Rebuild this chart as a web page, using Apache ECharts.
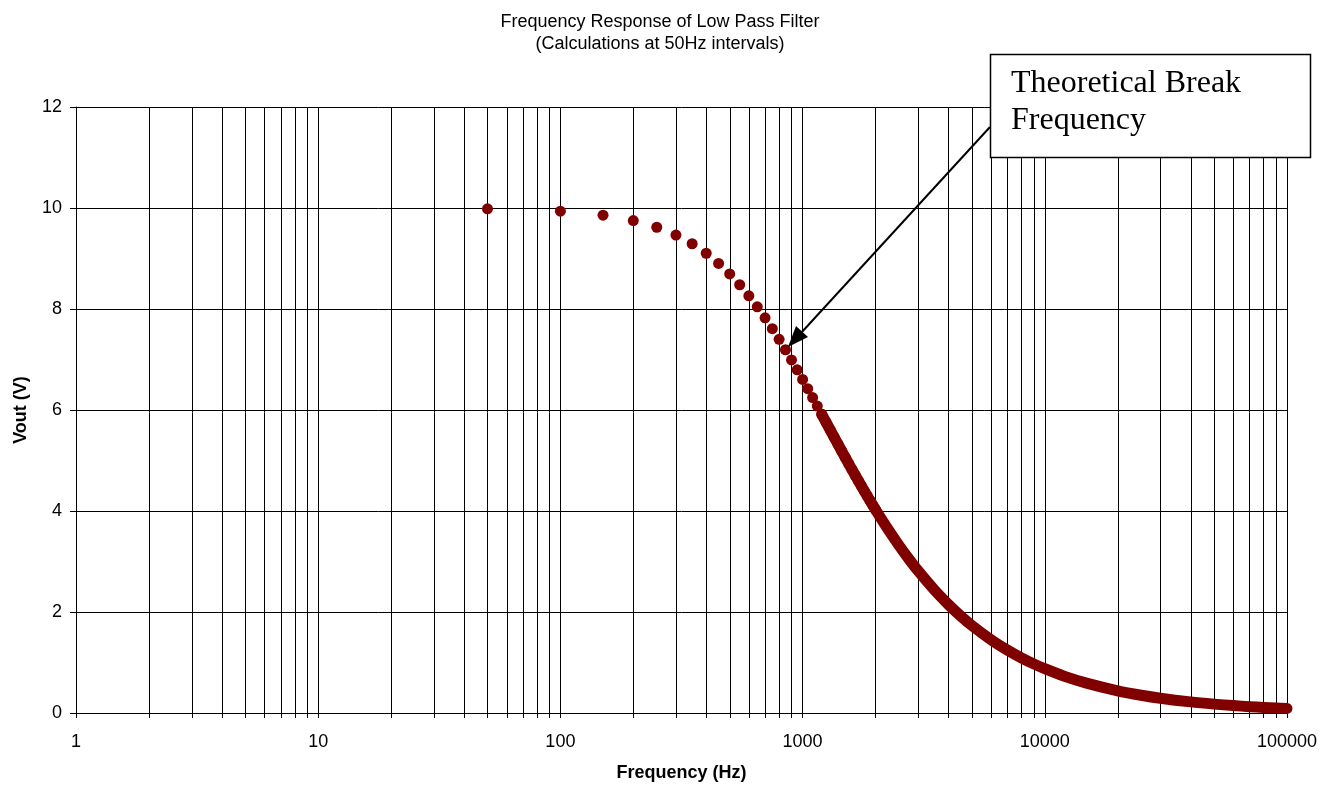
<!DOCTYPE html>
<html><head><meta charset="utf-8">
<script src="https://cdn.jsdelivr.net/npm/echarts@6/dist/echarts.min.js"></script>
<style>html,body{margin:0;padding:0;background:#fff}#c{width:1320px;height:787px}</style>
</head><body><div id="c"></div>
<script>
// Individually visible calculation points (50 Hz steps)
const dotFreq = [50,100,150,200,250,300,350,400,450,500,550,600,650,700,750,800,850,900,950,1000,
  1050,1100,1150,1200,1250,1300,1350,1400,1450,1500,1550,1600,1650,1700,1750,1800,1850,1900,1950,2000];
const dotVout = [9.984,9.936,9.858,9.751,9.619,9.465,9.292,9.104,8.903,8.694,8.480,8.262,8.044,7.826,7.611,7.399,7.193,6.991,6.796,6.606,
  6.423,6.247,6.077,5.914,5.757,5.606,5.461,5.322,5.188,5.060,4.937,4.819,4.706,4.597,4.493,4.392,4.296,4.203,4.113,4.027];
// Dense region where the 50 Hz points merge into a solid band
const bandFreq = [1200,1300,1400,1500,1600,1700,1800,1900,2000,2250,2500,2750,3000,3500,4000,4500,5000,6000,7000,8000,9000,
  10000,12000,15000,20000,25000,30000,40000,50000,60000,70000,80000,90000,100000];
const bandVout = [5.914,5.606,5.322,5.060,4.819,4.597,4.392,4.203,4.027,3.642,3.320,3.048,2.815,2.438,2.149,1.919,1.733,1.451,1.247,1.093,0.973,
  0.877,0.731,0.586,0.440,0.352,0.293,0.220,0.176,0.147,0.126,0.110,0.098,0.088];
// Minor log gridlines (2..9 of each decade)
const minorFreq = [];
[1,10,100,1000,10000].forEach(d => { for (let k = 2; k <= 9; k++) minorFreq.push(k * d); });

const titleLines = ['Frequency Response of Low Pass Filter', '(Calculations at 50Hz intervals)'];
const xName = 'Frequency (Hz)';
const yName = 'Vout (V)';
const noteLines = ['Theoretical Break', 'Frequency'];

const FONT = '"Liberation Sans", Arial, sans-serif';
const chart = echarts.init(document.getElementById('c'), null, {renderer: 'canvas'});
chart.setOption({
  animation: false,
  backgroundColor: '#fff',
  title: {
    text: titleLines.join('\n'), left: 'center', top: 6,
    textStyle: {fontFamily: FONT, fontSize: 18, fontWeight: 'normal', color: '#000', lineHeight: 22}
  },
  grid: {left: 76, right: 33, top: 107, bottom: 67, containLabel: false},
  xAxis: {
    type: 'log', logBase: 10, min: 1, max: 100000,
    name: xName, nameLocation: 'middle', nameGap: 51,
    nameTextStyle: {fontFamily: FONT, fontSize: 18, fontWeight: 'bold', color: '#000'},
    axisLine: {show: true, lineStyle: {color: '#000', width: 1}},
    axisTick: {show: true, length: 5, lineStyle: {color: '#000'}},
    axisLabel: {fontFamily: FONT, fontSize: 18, color: '#000', margin: 20,
      formatter: v => String(Math.round(v))},
    splitLine: {show: true, lineStyle: {color: '#000', width: 1}}
  },
  yAxis: {
    type: 'value', min: 0, max: 12, interval: 2,
    name: yName, nameLocation: 'middle', nameGap: 46,
    nameTextStyle: {fontFamily: FONT, fontSize: 18, fontWeight: 'bold', color: '#000'},
    axisLine: {show: true, lineStyle: {color: '#000', width: 1}},
    axisTick: {show: true, length: 6, lineStyle: {color: '#000'}},
    axisLabel: {fontFamily: FONT, fontSize: 18, color: '#000', margin: 14},
    splitLine: {show: true, lineStyle: {color: '#000', width: 1}}
  },
  series: [
    {
      type: 'custom', z: 1, silent: true,
      data: minorFreq.map(f => [f, 0]),
      renderItem: (params, api) => {
        const p0 = api.coord([api.value(0), 0]);
        const p1 = api.coord([api.value(0), 12]);
        const x = Math.round(p0[0]) + 0.5;
        return {type: 'line', shape: {x1: x, y1: p1[1], x2: x, y2: p0[1] + 5},
          style: {stroke: '#000', lineWidth: 1}};
      }
    },
    {
      type: 'line', z: 3, silent: true,
      data: bandFreq.map((f, i) => [f, bandVout[i]]),
      showSymbol: false, smooth: 0.3,
      lineStyle: {color: '#800000', width: 11, cap: 'round', join: 'round'}
    },
    {
      type: 'scatter', z: 4, silent: true,
      data: dotFreq.map((f, i) => [f, dotVout[i]]),
      symbol: 'circle', symbolSize: 11,
      itemStyle: {color: '#800000', opacity: 1}
    }
  ],
  graphic: [
    {type: 'line', z: 10, shape: {x1: 990, y1: 127, x2: 801, y2: 333},
      style: {stroke: '#000', lineWidth: 2}},
    {type: 'polygon', z: 10, shape: {points: [[788, 347], [808, 337], [796, 326]]},
      style: {fill: '#000'}},
    {type: 'rect', z: 10, shape: {x: 990.5, y: 54.5, width: 320, height: 103},
      style: {fill: '#fff', stroke: '#000', lineWidth: 1.5}},
    {type: 'text', z: 11, style: {text: noteLines[0], x: 1011, y: 84, font: '32px "Liberation Serif", "Times New Roman", serif', fill: '#000', verticalAlign: 'middle'}},
    {type: 'text', z: 11, style: {text: noteLines[1], x: 1011, y: 121, font: '32px "Liberation Serif", "Times New Roman", serif', fill: '#000', verticalAlign: 'middle'}}
  ]
});
</script></body></html>
